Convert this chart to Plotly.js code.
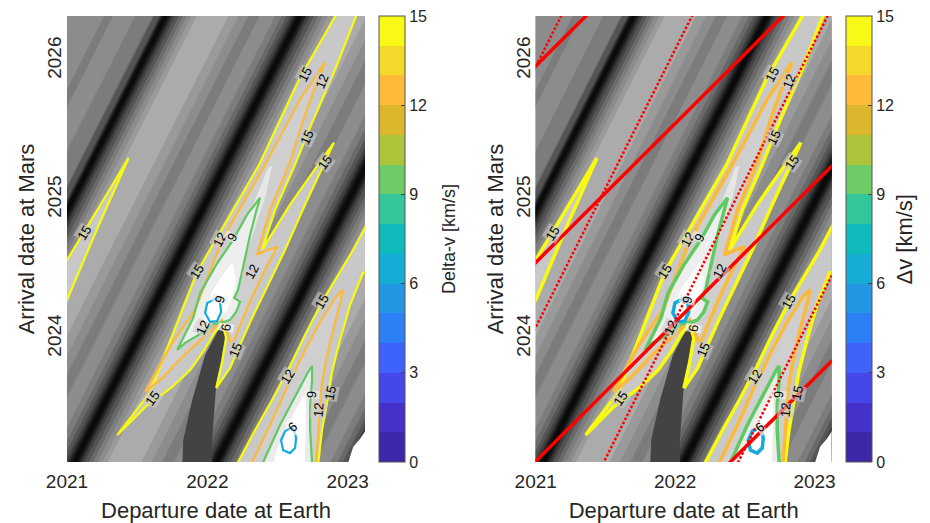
<!DOCTYPE html>
<html>
<head>
<meta charset="utf-8">
<script src="https://cdn.plot.ly/plotly-3.0.1.min.js"></script>
<style>body{margin:0;background:#fff}#chart{width:930px;height:523px}</style>
</head>
<body>
<div id="chart"></div>
<script>
// ================= data (departure / arrival in decimal years) =================
const departureRange = [2021.0, 2023.123];
const arrivalRange = [2023.11, 2026.32];
const departureTicks = [2021, 2022, 2023];
const arrivalTicks = [2024, 2025, 2026];

// grey background: delta-v across the diagonal bands, listed by band phase
// (phase = arrival date of the band at a 2021.0 departure; bands rise 2 years per year)
const bandDeparture = [2020.9, 2023.3];
const bandSlope = 2.0;
const bandPhase = [2018.48, 2018.62, 2018.74, 2018.87, 2018.98, 2019.09, 2019.22, 2019.41, 2019.69, 2019.94,
  2020.12, 2020.48, 2020.62, 2020.74, 2020.87, 2020.98, 2021.10, 2021.23, 2021.41, 2021.70,
  2021.95, 2022.13, 2022.50, 2022.64, 2022.76, 2022.89, 2023.00, 2023.11, 2023.23, 2023.41,
  2023.69, 2023.92, 2024.10, 2024.44, 2024.58, 2024.69, 2024.81, 2024.92, 2025.00, 2025.08,
  2025.12, 2025.35, 2025.45, 2025.62, 2025.72, 2025.85, 2025.95, 2026.08, 2026.30, 2026.55,
  2026.79, 2026.90];
const bandDeltaV = [20, 25.5, 31, 37.5, 52, 37.5, 31, 25.5, 28, 23,
  19.5, 20, 25.5, 31, 37.5, 52, 37.5, 31, 25.5, 28,
  23, 19.5, 20, 25.5, 31, 37.5, 52, 37.5, 31, 25.5,
  28, 23, 19.5, 20, 25.5, 31, 37.5, 52, 36, 33,
  27.5, 27, 24.5, 24.5, 30, 24.5, 24.5, 26, 25, 22,
  37.5, 52];

// dark wedge and the corner with no solution
const wedgeDep = [2021.822, 2021.822, 2021.828, 2021.892, 2021.984, 2022.105, 2022.127, 2022.098, 2022.063, 2022.048, 2022.034, 2022.034];
const wedgeArr = [2023.05, 2023.109, 2023.267, 2023.556, 2023.880, 2024.111, 2024.025, 2023.844, 2023.664, 2023.484, 2023.267, 2023.05];
const voidDep = [2023.005, 2023.005, 2023.04, 2023.09, 2023.13, 2023.2, 2023.2];
const voidArr = [2023.00, 2023.111, 2023.22, 2023.28, 2023.34, 2023.34, 2023.00];

// ---- iso-delta-v contours ----
// 15 km/s, loop at upper left
const loopA15Dep = [2020.95, 2021.0, 2021.22, 2021.439, 2021.22, 2021.0, 2020.95];
const loopA15Arr = [2024.48, 2024.565, 2024.93, 2025.298, 2024.80, 2024.277, 2024.20];
// main 2022 window
const loopB15Dep = [2021.358, 2021.593, 2021.927, 2022.369, 2022.660, 2022.981, 2023.102, 2023.073, 2022.910, 2022.746,
  2022.625, 2022.483, 2022.390, 2022.589, 2022.789, 2022.902, 2022.846, 2022.696, 2022.554, 2022.433,
  2022.319, 2022.233, 2022.162, 2022.063, 2022.105, 2022.134, 2022.105, 2022.041, 2021.970, 2021.878,
  2021.749, 2021.557, 2021.358];
const loopB15Arr = [2023.304, 2023.614, 2024.479, 2025.250, 2025.877, 2026.440, 2026.440, 2026.353, 2025.935, 2025.553,
  2025.250, 2024.926, 2024.637, 2024.962, 2025.250, 2025.409, 2025.286, 2024.962, 2024.637, 2024.385,
  2024.147, 2023.952, 2023.787, 2023.642, 2023.830, 2024.003, 2024.111, 2024.025, 2023.902, 2023.772,
  2023.650, 2023.505, 2023.304];
const loopB12Dep = [2021.557, 2021.749, 2021.913, 2022.105, 2022.411, 2022.660, 2022.838, 2022.789, 2022.696, 2022.582,
  2022.447, 2022.354, 2022.433, 2022.497, 2022.411, 2022.319, 2022.233, 2022.177, 2022.134, 2022.105,
  2022.048, 2021.949, 2021.842, 2021.678, 2021.557];
const loopB12Arr = [2023.614, 2023.967, 2024.205, 2024.709, 2025.250, 2025.719, 2025.986, 2025.863, 2025.611, 2025.250,
  2024.926, 2024.601, 2024.637, 2024.659, 2024.493, 2024.298, 2024.097, 2023.952, 2024.061, 2024.133,
  2024.075, 2023.988, 2023.887, 2023.714, 2023.614];
const loopB9Dep = [2021.785, 2021.899, 2021.949, 2022.063, 2022.184, 2022.283, 2022.376, 2022.347, 2022.305, 2022.262,
  2022.219, 2022.191, 2022.233, 2022.205, 2022.162, 2022.120, 2022.048, 2021.949, 2021.842, 2021.785];
const loopB9Arr = [2023.916, 2024.147, 2024.327, 2024.529, 2024.709, 2024.890, 2025.012, 2024.911, 2024.745, 2024.551,
  2024.349, 2024.291, 2024.262, 2024.190, 2024.133, 2024.118, 2024.104, 2024.032, 2023.967, 2023.916];
const loopB6Dep = [2022.070, 2021.999, 2021.984, 2022.020, 2022.070, 2022.098, 2022.091, 2022.070];
const loopB6Arr = [2024.291, 2024.255, 2024.183, 2024.118, 2024.125, 2024.190, 2024.255, 2024.291];
const valleyBDep = [2021.913, 2021.984, 2022.105, 2022.233, 2022.340, 2022.433, 2022.461, 2022.418, 2022.347, 2022.276,
  2022.219, 2022.162, 2022.105, 2022.006];
const valleyBArr = [2024.061, 2024.277, 2024.508, 2024.745, 2024.998, 2025.229, 2025.243, 2025.034, 2024.818, 2024.601,
  2024.421, 2024.241, 2024.147, 2024.097];
const coreBDep = [2021.970, 2021.991, 2022.048, 2022.134, 2022.177, 2022.205, 2022.177, 2022.134, 2022.063];
const coreBArr = [2024.075, 2024.241, 2024.363, 2024.493, 2024.551, 2024.421, 2024.291, 2024.190, 2024.147];
// late-2022 window (lower right)
const loopC15Dep = [2022.205, 2022.219, 2022.340, 2022.461, 2022.589, 2022.696, 2022.817, 2022.945, 2023.031, 2023.130,
  2023.194, 2023.194, 2023.109, 2023.017, 2022.945, 2022.888, 2022.860, 2022.817, 2022.789, 2022.781];
const loopC15Arr = [2023.015, 2023.109, 2023.340, 2023.556, 2023.801, 2024.025, 2024.262, 2024.479, 2024.623, 2024.810,
  2024.810, 2024.493, 2024.472, 2024.241, 2023.988, 2023.758, 2023.578, 2023.340, 2023.109, 2023.015];
const loopC12Dep = [2022.305, 2022.319, 2022.447, 2022.575, 2022.696, 2022.803, 2022.910, 2022.967, 2022.953, 2022.896,
  2022.846, 2022.810, 2022.796, 2022.774, 2022.767];
const loopC12Arr = [2023.015, 2023.109, 2023.376, 2023.664, 2023.916, 2024.118, 2024.291, 2024.349, 2024.277, 2024.061,
  2023.844, 2023.628, 2023.412, 2023.109, 2023.015];
const loopC9Dep = [2022.390, 2022.398, 2022.518, 2022.639, 2022.718, 2022.746, 2022.746, 2022.732, 2022.732, 2022.746, 2022.746];
const loopC9Arr = [2023.015, 2023.109, 2023.376, 2023.614, 2023.758, 2023.801, 2023.700, 2023.520, 2023.340, 2023.109, 2023.015];
const coreCDep = [2022.461, 2022.483, 2022.554, 2022.646, 2022.703, 2022.703, 2022.696, 2022.696];
const coreCArr = [2023.051, 2023.159, 2023.340, 2023.520, 2023.614, 2023.412, 2023.195, 2023.051];
const loopC6Dep = [2022.604, 2022.554, 2022.525, 2022.540, 2022.589, 2022.625, 2022.632, 2022.618, 2022.604];
const loopC6Arr = [2023.361, 2023.332, 2023.267, 2023.195, 2023.174, 2023.210, 2023.282, 2023.340, 2023.361];

// contour labels
const labelText = ['15', '15', '15', '12', '9', '15', '12', '15', '15', '12', '9', '12', '6', '15',
  '12', '15', '9', '12', '15', '6'];
const labelDep = [2021.119, 2021.607, 2021.927, 2022.091, 2022.177, 2022.696, 2022.817, 2022.710, 2022.838, 2022.319,
  2022.091, 2021.970, 2022.134, 2022.198, 2022.575, 2022.817, 2022.739, 2022.789, 2022.874, 2022.604];
const labelArr = [2024.758, 2023.570, 2024.479, 2024.709, 2024.724, 2025.899, 2025.849, 2025.445, 2025.265, 2024.479,
  2024.277, 2024.075, 2024.075, 2023.916, 2023.722, 2024.262, 2023.592, 2023.484, 2023.606, 2023.361];
const labelAngle = [-59, -55, -58, -62, -62, -62, -68, -65, -55, -62, -75, -65, -80, -68, -58, -60, -85, -85, -78, -40];

// right panel overlays: constant time-of-flight lines (years) and dotted band-phase guides
const tofYears = [0.713, 2.116, 3.546, 4.96];
const guidePhase = [2025.955, 2024.079, 2022.133, 2020.205];

// colour bar (15 steps over 0..15 km/s)
const parula15 = ['#3e26a8', '#4431c9', '#4547e8', '#3d63fa', '#2c7ff4', '#2497e4', '#15acd6', '#0fbbba',
  '#33c69a', '#6dcc66', '#abc43a', '#dcb72b', '#fdbb38', '#f4d92b', '#f8f916'];

// ================= styles =================
const levelColor = {15: '#f9fb0e', 12: '#fdb93a', 9: '#5fca62', 6: '#15a9de'};
const labelBg = {15: 'rgba(200,200,200,0.6)', 12: 'rgba(205,205,205,0.6)', 9: 'rgba(236,236,236,0.7)', 6: 'rgba(246,246,246,0.7)'};
const greyScale = [[0, '#ffffff'], [4.5/48, '#ffffff'], [7.5/48, '#f2f2f2'], [10.5/48, '#e0e0e0'],
  [13.5/48, '#c9c9c9'], [16.5/48, '#b4b4b4'], [19.5/48, '#a2a2a2'], [22.5/48, '#929292'],
  [25.5/48, '#858585'], [28.5/48, '#737373'], [31.5/48, '#5e5e5e'], [34.5/48, '#4a4a4a'],
  [37.5/48, '#363636'], [40.5/48, '#262626'], [43.5/48, '#181818'], [46.5/48, '#0e0e0e'], [1, '#0a0a0a']];
const parulaScale = [];
parula15.forEach((c, i) => { parulaScale.push([i/15, c]); parulaScale.push([(i+1)/15, c]); });
const FONT = 'Liberation Sans, Arial, sans-serif';
const TXT = '#262626';

// ================= build =================
const carpetX = bandPhase.map(() => bandDeparture.slice());
const carpetY = bandPhase.map(p => bandDeparture.map(d => p + bandSlope * (d - 2021)));
const bandZ = bandDeltaV.map(v => bandDeparture.map(() => v));

const fills = [
  [loopA15Dep, loopA15Arr, '#c8c8c8'],
  [loopB15Dep, loopB15Arr, '#c8c8c8'], [loopB12Dep, loopB12Arr, '#cfcfcf'],
  [valleyBDep, valleyBArr, '#e6e6e6'], [loopB9Dep, loopB9Arr, '#eeeeee'],
  [coreBDep, coreBArr, '#ffffff'], [loopB6Dep, loopB6Arr, '#ffffff'],
  [loopC15Dep, loopC15Arr, '#c8c8c8'], [loopC12Dep, loopC12Arr, '#cfcfcf'],
  [loopC9Dep, loopC9Arr, '#ebebeb'], [coreCDep, coreCArr, '#ffffff'], [loopC6Dep, loopC6Arr, '#ffffff']
];
const lines = [
  [loopA15Dep, loopA15Arr, 15], [loopB15Dep, loopB15Arr, 15], [loopC15Dep, loopC15Arr, 15],
  [loopB12Dep, loopB12Arr, 12], [loopC12Dep, loopC12Arr, 12],
  [loopB9Dep, loopB9Arr, 9], [loopC9Dep, loopC9Arr, 9],
  [loopB6Dep, loopB6Arr, 6], [loopC6Dep, loopC6Arr, 6]
];

function panel(xa, ya, cid, lw, cbX) {
  const tr = [];
  const hidden = {showgrid: false, showline: false, showticklabels: 'none', startline: false, endline: false,
    gridcolor: 'rgba(0,0,0,0)', linecolor: 'rgba(0,0,0,0)', minorgridcount: 0};
  tr.push({type: 'carpet', carpet: cid, a: bandDeparture, b: bandPhase, x: carpetX, y: carpetY,
    xaxis: xa, yaxis: ya, aaxis: hidden, baxis: hidden, hoverinfo: 'skip'});
  tr.push({type: 'contourcarpet', carpet: cid, a: bandDeparture, b: bandPhase, z: bandZ,
    xaxis: xa, yaxis: ya, autocontour: false,
    contours: {start: 3, end: 48, size: 3, coloring: 'fill', showlines: false},
    line: {width: 0}, colorscale: greyScale, showscale: false, hoverinfo: 'skip'});
  const poly = (x, y, c) => ({type: 'scatter', x: x, y: y, xaxis: xa, yaxis: ya, mode: 'lines', fill: 'toself',
    fillcolor: c, line: {width: 0}, hoverinfo: 'skip'});
  tr.push(poly(wedgeDep, wedgeArr, '#434343'));
  tr.push(poly(voidDep, voidArr, '#ffffff'));
  fills.forEach(f => tr.push(poly(f[0], f[1], f[2])));
  lines.forEach(l => tr.push({type: 'scatter', x: l[0], y: l[1], xaxis: xa, yaxis: ya, mode: 'lines',
    line: {width: lw, color: levelColor[l[2]]}, hoverinfo: 'skip'}));
  tr.push({type: 'heatmap', z: [[0, 15]], xaxis: xa, yaxis: ya, opacity: 0, zmin: 0, zmax: 15,
    colorscale: parulaScale, hoverinfo: 'skip',
    colorbar: {x: cbX, xanchor: 'left', xpad: 0, ypad: 0, y: 0.5, yanchor: 'middle', len: 1, lenmode: 'fraction',
      thickness: 26, outlinewidth: 1, outlinecolor: '#555', tickvals: [0, 3, 6, 9, 12, 15],
      ticks: 'inside', ticklen: 4, tickcolor: '#444', tickfont: {size: 16, color: TXT, family: FONT}}});
  return tr;
}

let traces = [];
traces = traces.concat(panel('x', 'y', 'bandsL', 2.2, 0.3884));
traces = traces.concat(panel('x2', 'y2', 'bandsR', 3.5, 0.9689));
const lineDep = [departureRange[0] - 0.2, departureRange[1] + 0.2];
guidePhase.forEach(p => {
  traces.push({type: 'scatter', x: lineDep, y: lineDep.map(d => p + bandSlope * (d - 2021)),
    xaxis: 'x2', yaxis: 'y2', mode: 'lines',
    line: {color: '#ff0000', width: 2.5, dash: '2.5px,2px'}, hoverinfo: 'skip'});
});
tofYears.forEach(t => {
  traces.push({type: 'scatter', x: lineDep, y: lineDep.map(d => d + t), xaxis: 'x2', yaxis: 'y2',
    mode: 'lines', line: {color: '#ff0000', width: 3.5}, hoverinfo: 'skip'});
});

function xax(domain, anchor) {
  return {domain: domain, anchor: anchor, range: departureRange, tickvals: departureTicks,
    ticktext: departureTicks.map(String), ticks: '', showgrid: false, zeroline: false, showline: false,
    tickfont: {size: 19, color: TXT, family: FONT}, ticklabelstandoff: 6,
    title: {text: 'Departure date at Earth', font: {size: 22, color: TXT, family: FONT}, standoff: 12}};
}
function yax(anchor) {
  return {domain: [0, 1], anchor: anchor, range: arrivalRange, tickvals: arrivalTicks,
    ticktext: arrivalTicks.map(String), ticks: '', tickangle: -90, showgrid: false, zeroline: false, showline: false,
    tickfont: {size: 19, color: TXT, family: FONT}, ticklabelstandoff: 1,
    title: {text: 'Arrival date at Mars', font: {size: 22, color: TXT, family: FONT}, standoff: 3}};
}

const annotations = [];
['', '2'].forEach(s => {
  labelText.forEach((t, i) => {
    annotations.push({xref: 'x' + s, yref: 'y' + s, x: labelDep[i], y: labelArr[i], text: t,
      textangle: labelAngle[i], showarrow: false, bgcolor: labelBg[t], borderpad: 0,
      font: {size: 13, color: '#000', family: FONT}});
  });
});
annotations.push({xref: 'paper', yref: 'paper', x: 0.4751, y: 0.5, text: 'Delta-v [km/s]', textangle: -90,
  showarrow: false, font: {size: 18, color: TXT, family: FONT}});
annotations.push({xref: 'paper', yref: 'paper', x: 1.0597, y: 0.5, text: '\u0394v [km/s]', textangle: -90,
  showarrow: false, font: {size: 22, color: TXT, family: FONT}});

const layout = {
  width: 930, height: 523, margin: {l: 67, r: 59, t: 16, b: 61},
  paper_bgcolor: '#ffffff', plot_bgcolor: '#ffffff', showlegend: false,
  font: {family: FONT, color: TXT},
  xaxis: xax([0, 0.3706], 'y'), yaxis: yax('x'),
  xaxis2: xax([0.5830, 0.9511], 'y2'), yaxis2: yax('x2'),
  annotations: annotations
};

Plotly.newPlot('chart', traces, layout, {staticPlot: true});
</script>
</body>
</html>
